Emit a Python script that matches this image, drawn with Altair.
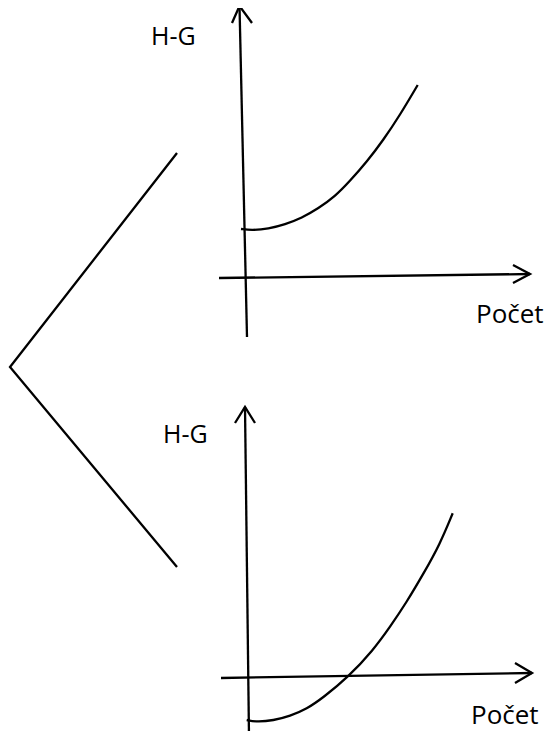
import altair as alt
import pandas as pd

# --- shapes (page pixel coordinates) ---
bracket_x = [177, 10, 177]
bracket_y = [153, 367, 567]

top_yaxis_x = [247, 239.5]
top_yaxis_y = [337, 6]
top_yarrow_x = [232, 239.5, 252]
top_yarrow_y = [23, 6, 23]
top_xaxis_x = [219, 530]
top_xaxis_y = [278, 274]
top_xarrow_x = [513, 530, 513]
top_xarrow_y = [265, 274, 283]
top_curve_x = [241, 251.7, 268.3, 285, 301.7, 318.3, 335, 350, 367, 383, 400, 417.7]
top_curve_y = [229, 230.3, 228.8, 224.5, 218, 208.5, 196.5, 181, 161.5, 140.5, 115, 85]

bot_yaxis_x = [249, 245]
bot_yaxis_y = [737, 407]
bot_yarrow_x = [235, 245, 255]
bot_yarrow_y = [423, 407, 423]
bot_xaxis_x = [221, 532]
bot_xaxis_y = [678, 673]
bot_xarrow_x = [515, 532, 515]
bot_xarrow_y = [663, 673, 683]
bot_curve_x = [246.7, 256.7, 273.3, 290, 306.7, 323.3, 348.3, 373.3, 390, 406.7, 423.3, 440, 452.7]
bot_curve_y = [720, 722, 720.5, 716, 709, 697.5, 677, 650, 627, 602, 574, 544, 513.3]

label_text = ["H-G", "Počet", "H-G", "Počet"]
label_x = [151, 476, 163, 471]
label_y = [45, 323, 443, 724]
label_size = [25, 26, 25, 26]


def rows(name, xs, ys):
    return [{"seg": name, "i": k, "x": a, "y": b} for k, (a, b) in enumerate(zip(xs, ys))]


straight = pd.DataFrame(
    rows("bracket", bracket_x, bracket_y)
    + rows("tya", top_yaxis_x, top_yaxis_y)
    + rows("tyh", top_yarrow_x, top_yarrow_y)
    + rows("txa", top_xaxis_x, top_xaxis_y)
    + rows("txh", top_xarrow_x, top_xarrow_y)
    + rows("bya", bot_yaxis_x, bot_yaxis_y)
    + rows("byh", bot_yarrow_x, bot_yarrow_y)
    + rows("bxa", bot_xaxis_x, bot_xaxis_y)
    + rows("bxh", bot_xarrow_x, bot_xarrow_y)
)
curves = pd.DataFrame(rows("tc", top_curve_x, top_curve_y) + rows("bc", bot_curve_x, bot_curve_y))
labels = pd.DataFrame({"t": label_text, "x": label_x, "y": label_y, "fs": label_size})

xs = alt.Scale(domain=[8, 545], nice=False, zero=False)
ys = alt.Scale(domain=[8, 731], reverse=True, nice=False, zero=False)

X = alt.X("x:Q", scale=xs, axis=None)
Y = alt.Y("y:Q", scale=ys, axis=None)

lines = alt.Chart(straight).mark_line(color="black", strokeWidth=2.3, strokeJoin="miter").encode(
    x=X, y=Y, detail="seg:N", order="i:Q"
)
curv = alt.Chart(curves).mark_line(color="black", strokeWidth=2.3, interpolate="basis").encode(
    x=X, y=Y, detail="seg:N", order="i:Q"
)
text = alt.Chart(labels).mark_text(
    align="left", baseline="alphabetic", font="Open Sans", color="black"
).encode(x=X, y=Y, text="t:N", size=alt.Size("fs:Q", scale=None, legend=None))

chart = (
    alt.layer(lines, curv, text)
    .properties(
        width=537,
        height=723,
        padding=0,
        background="white",
        autosize=alt.AutoSizeParams(type="none"),
    )
    .configure_view(stroke=None)
)

chart.save("out.html", embed_options={"renderer": "svg", "actions": False})
